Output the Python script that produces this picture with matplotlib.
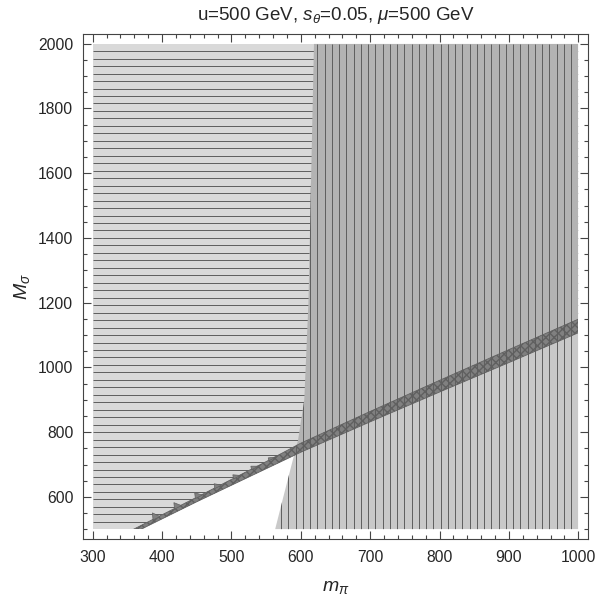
import numpy as np
import matplotlib
matplotlib.use("Agg")
import matplotlib.pyplot as plt
from matplotlib.patches import Polygon, Rectangle
from matplotlib.collections import LineCollection
from matplotlib.ticker import MultipleLocator

plt.rcParams.update({
    "font.family": "Liberation Sans",
    "mathtext.fontset": "custom",
    "mathtext.rm": "Liberation Sans",
    "mathtext.it": "Liberation Sans:italic",
    "mathtext.bf": "Liberation Sans:bold",
})

# scan ranges
mpi_range = [300, 1000]
msig_range = [500, 2000]

# dark strip (allowed band), centre and half width in M_sigma
band_mpi = [300, 380, 450, 500, 550, 600, 700, 800, 900, 1000]
band_mid = [430, 517, 592, 645, 698, 752, 848, 942, 1035, 1128]
band_half = [6, 6, 7, 9, 11, 14, 16, 18, 20, 21]

# little teeth on the upper edge of the strip (sampling artefacts)
tooth_mpi = [390, 421, 451, 479, 506, 532, 557]
tooth_h = [20, 18, 16, 13, 11, 9, 7]

# left edge of the vertically hatched region
edge_msig = [500, 610, 710, 775, 900, 1200, 1600, 2000]
edge_mpi = [563, 576, 588, 596, 605, 611, 615, 619]

C_LIGHT = "#d9d9d9"
C_OVER = "#b3b3b3"
C_RIGHT = "#c9c9c9"
C_BAND = "#808080"
C_HATCH = "#5e5e5e"
C_TXT = "#262626"

fig = plt.figure(figsize=(5.95, 5.99), dpi=100)
ax = fig.add_axes([0.1395, 0.1002, 0.8487, 0.843])
ax.set_xlim(286, 1014)
ax.set_ylim(470, 2030)

x0, x1 = mpi_range
y0, y1 = msig_range
bx = np.array(band_mpi, float)
lo = np.array(band_mid) - np.array(band_half)
hi = np.array(band_mid) + np.array(band_half)

rect = Rectangle((x0, y0), x1 - x0, y1 - y0, facecolor="none", edgecolor="none")
ax.add_patch(rect)

above = Polygon(np.column_stack([np.r_[bx, x1, x0], np.r_[hi, y1, y1]]),
                facecolor=C_LIGHT, edgecolor="none", zorder=1)
ax.add_patch(above)
above.set_clip_path(rect)

below = Polygon(np.column_stack([np.r_[bx, x1, x0], np.r_[lo, y0, y0]]),
                facecolor="none", edgecolor="none")
ax.add_patch(below)

right_pts = np.column_stack([np.r_[edge_mpi, x1, x1], np.r_[edge_msig, y1, y0]])
right_up = Polygon(right_pts, facecolor=C_OVER, edgecolor="none", zorder=3)
ax.add_patch(right_up)
right_up.set_clip_path(above)
right_dn = Polygon(right_pts, facecolor=C_RIGHT, edgecolor="none", zorder=3)
ax.add_patch(right_dn)
right_dn.set_clip_path(below)
right_clip = Polygon(right_pts, facecolor="none", edgecolor="none")
ax.add_patch(right_clip)

# horizontal hatch lines
sy = (y1 - y0) / 65
hy = y0 + sy * np.arange(1, 65)
hl = LineCollection([[(x0, v), (x1, v)] for v in hy], colors=C_HATCH,
                    linewidths=0.7, zorder=2)
ax.add_collection(hl)
hl.set_clip_path(above)

# band
bp = ax.fill_between(bx, lo, hi, facecolor=C_BAND, edgecolor="#606060",
                     hatch="xxxx", linewidth=0.6, zorder=3.5)
bp.set_clip_path(rect)

# teeth on the band edge
for tx, th in zip(tooth_mpi, tooth_h):
    base = np.interp([tx - 3, tx + 7], bx, hi)
    tri = Polygon([(tx - 3, base[0] - 2), (tx - 4, base[0] + th),
                   (tx + 7, base[1] - 2)], facecolor=C_BAND,
                  edgecolor="#606060", linewidth=0.5, zorder=3.6)
    ax.add_patch(tri)
    tri.set_clip_path(rect)

# vertical hatch lines
sx = (x1 - x0) / 67
vx = x1 - sx * np.arange(1, 67)
vl = LineCollection([[(v, y0), (v, y1)] for v in vx], colors=C_HATCH,
                    linewidths=0.7, zorder=4)
ax.add_collection(vl)
vl.set_clip_path(right_clip)

# axes styling
ax.xaxis.set_major_locator(MultipleLocator(100))
ax.xaxis.set_minor_locator(MultipleLocator(20))
ax.yaxis.set_major_locator(MultipleLocator(200))
ax.yaxis.set_minor_locator(MultipleLocator(50))
ax.tick_params(which="both", direction="in", top=True, right=True,
               color="#444444", width=0.8, labelsize=11.3, labelcolor=C_TXT)
ax.tick_params(which="major", length=6)
ax.tick_params(which="minor", length=3)
ax.tick_params(axis="x", pad=8)
ax.tick_params(axis="y", pad=7)
for s in ax.spines.values():
    s.set_color("#444444")
    s.set_linewidth(0.8)

ax.set_xlabel(r"$m_\pi$", fontsize=14, color=C_TXT, labelpad=10)
ax.set_ylabel(r"$M_\sigma$", fontsize=14, color=C_TXT, labelpad=4)
ax.set_title(r"u=500 GeV, $s_\theta$=0.05, $\mu$=500 GeV", fontsize=13.5,
             color=C_TXT, pad=10)

fig.savefig("out.png", dpi=100)
